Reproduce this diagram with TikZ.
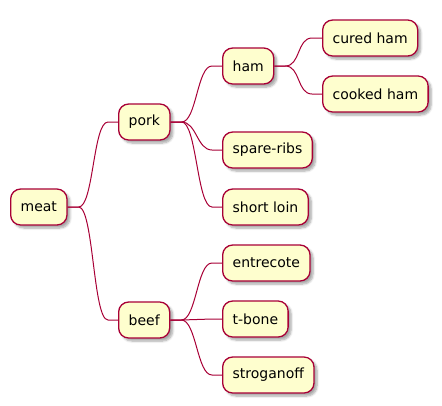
\documentclass[tikz,border=0pt]{standalone}
\usepackage{fontspec}
\setmainfont{DejaVu Sans}
\usetikzlibrary{shadows.blur}
\definecolor{meatline}{HTML}{A80036}
\definecolor{meatfill}{HTML}{FEFECE}

\begin{document}
\begin{tikzpicture}[x=1bp,y=-1bp,
leaf/.style={draw=meatline, fill=meatfill, line width=1.3bp, rounded corners=10bp, anchor=west, minimum height=36bp, inner xsep=10bp, font=\fontsize{14bp}{16bp}\selectfont,
	blur shadow={shadow xshift=3bp, shadow yshift=-3bp, shadow blur steps=6, shadow opacity=35}},
link/.style={draw=meatline, line width=1bp, to path={-- ++(11,0) .. controls +(15,0) and +(-15,0) .. ([xshift=-10bp]\tikztotarget) -- (\tikztotarget)}}]
\useasboundingbox (0,0) rectangle (442,405);
% root and first level
\node[leaf] (meat) at (10,207) {meat};
\node[leaf] (pork) at (118,122) {pork};
\node[leaf] (beef) at (118,320) {beef};
% pork
\node[leaf] (ham) at (222,66) {ham};
\node[leaf] (spareribs) at (222,150) {spare-ribs};
\node[leaf] (shortloin) at (222,207) {short loin};
\node[leaf] (curedham) at (322,38) {cured ham};
\node[leaf] (cookedham) at (322,94) {cooked ham};
% beef
\node[leaf] (entrecote) at (222,263) {entrecote};
\node[leaf] (tbone) at (222,319) {t-bone};
\node[leaf] (stroganoff) at (222,375) {stroganoff};
% branches
\draw[link] (meat.east) to (pork.west);
\draw[link] (meat.east) to (beef.west);
\draw[link] (pork.east) to (ham.west);
\draw[link] (pork.east) to (spareribs.west);
\draw[link] (pork.east) to (shortloin.west);
\draw[link] (ham.east) to (curedham.west);
\draw[link] (ham.east) to (cookedham.west);
\draw[link] (beef.east) to (entrecote.west);
\draw[link] (beef.east) to (tbone.west);
\draw[link] (beef.east) to (stroganoff.west);
\end{tikzpicture}
\end{document}
